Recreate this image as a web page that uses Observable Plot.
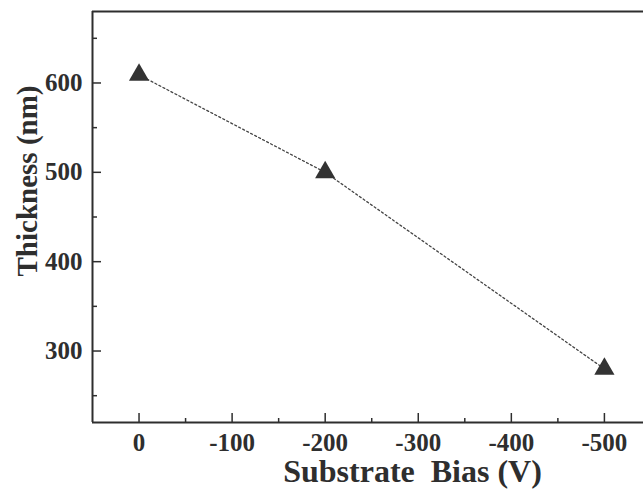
<!DOCTYPE html>
<html>
<head>
<meta charset="utf-8">
<script src="https://cdn.jsdelivr.net/npm/d3@7"></script>
<script src="https://cdn.jsdelivr.net/npm/@observablehq/plot@0.6"></script>
<style>
  html, body { margin: 0; padding: 0; background: #fff; }
  #chart { width: 643px; height: 489px; }
</style>
</head>
<body>
<div id="chart"></div>
<script>
// Data
const bias = [0, -200, -500];
const thickness = [609, 500, 280];

// Axes
const xDomain = [50, -542];
const yDomain = [220, 680];
const xTicks = [0, -100, -200, -300, -400, -500];
const xMinor = [-50, -150, -250, -350, -450];
const yTicks = [300, 400, 500, 600];
const yMinor = [250, 350, 450, 550, 650];
const xTitle = "Substrate\u00a0\u00a0Bias (V)";
const yTitle = "Thickness (nm)";

const data = bias.map((b, i) => ({bias: b, thickness: thickness[i]}));
const ink = "#2e2e2e";
const font = "'Liberation Serif', 'Times New Roman', serif";

const chart = Plot.plot({
  width: 643,
  height: 489,
  marginLeft: 92,
  marginRight: 0,
  marginTop: 11,
  marginBottom: 67,
  style: {fontFamily: font, fontWeight: "bold", background: "#fff", color: ink},
  x: {domain: xDomain, axis: null},
  y: {domain: yDomain, axis: null},
  marks: [
    // frame (top, bottom, left)
    Plot.ruleY(yDomain, {stroke: ink, strokeWidth: 2}),
    Plot.ruleX([xDomain[0]], {stroke: ink, strokeWidth: 2}),
    // inward ticks
    Plot.axisY(yTicks, {tickSize: -9, tickFormat: () => "", stroke: ink, strokeWidth: 1.5, label: null}),
    Plot.axisY(yMinor, {tickSize: -5, tickFormat: () => "", stroke: ink, strokeWidth: 1.5, label: null}),
    Plot.axisX(xTicks, {tickSize: -9, tickFormat: () => "", stroke: ink, strokeWidth: 1.5, label: null}),
    Plot.axisX(xMinor, {tickSize: -4, tickFormat: () => "", stroke: ink, strokeWidth: 1.5, label: null}),
    // tick labels
    Plot.text(yTicks, {y: d => d, text: d => String(d), frameAnchor: "left", textAnchor: "end", lineAnchor: "middle", dx: -10, fontSize: 25, fill: ink}),
    Plot.text(xTicks, {x: d => d, text: d => String(d), frameAnchor: "bottom", textAnchor: "middle", lineAnchor: "top", dy: 10.5, fontSize: 25, fill: ink}),
    // axis titles
    Plot.text([xTitle], {frameAnchor: "bottom", textAnchor: "middle", text: d => d, dx: 44.5, dy: 49.5, fontSize: 32, fill: ink, lineAnchor: "middle"}),
    Plot.text([yTitle], {frameAnchor: "left", textAnchor: "middle", text: d => d, rotate: -90, dx: -64.6, dy: -36, fontSize: 29, fill: ink, lineAnchor: "middle"}),
    // data
    Plot.line(data, {x: "bias", y: "thickness", stroke: "#444", strokeWidth: 1.3, strokeDasharray: "2,2.5"}),
    Plot.dot(data, {x: "bias", y: "thickness", symbol: "triangle", r: 7.5, fill: "#333", stroke: "none"})
  ]
});
document.getElementById("chart").appendChild(chart);
</script>
</body>
</html>
